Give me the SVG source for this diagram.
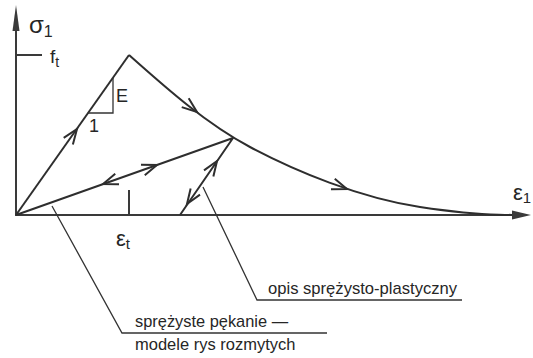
<svg xmlns="http://www.w3.org/2000/svg" width="533" height="358" viewBox="0 0 533 358">
<style>
.ax{stroke:#3a3a3a;stroke-width:2;fill:none}
.ln{stroke:#2e2e2e;stroke-width:2;fill:none;stroke-linejoin:round}
.ld{stroke:#333;stroke-width:1.3;fill:none}
.ar{stroke:none;fill:none}
.t{font-family:"Liberation Sans",Arial,sans-serif;fill:#262626}
</style>
<defs>
<marker id="chev" markerUnits="userSpaceOnUse" markerWidth="20" markerHeight="20" refX="0" refY="0" viewBox="-14 -8 16 16" orient="auto">
<path d="M-12,-4.5 L0,0 L-12,4.5" fill="none" stroke="#2e2e2e" stroke-width="1.6"/>
</marker>
</defs>
<rect width="533" height="358" fill="#fff"/>
<g id="axes">
<line class="ax" x1="16" y1="216" x2="16" y2="26"/>
<polygon points="16,5 12.5,31 19.5,31" fill="#3a3a3a"/>
<line class="ax" x1="16" y1="215" x2="515" y2="215"/>
<polygon points="531,215 512,210.5 512,219.5" fill="#3a3a3a"/>
<line class="ax" x1="16" y1="55" x2="42" y2="55" stroke-width="1.5"/>
<line class="ax" x1="129" y1="190" x2="129" y2="215" stroke-width="1.8"/>
</g>
<g id="labels">
<text class="t" x="29" y="33" font-size="24">σ<tspan font-size="16" dy="4">1</tspan></text>
<text class="t" x="50" y="63" font-size="19">f<tspan font-size="14" dy="4">t</tspan></text>
<text class="t" x="513" y="200" font-size="22">ε<tspan font-size="15" dy="3">1</tspan></text>
<text class="t" x="116" y="246" font-size="22">ε<tspan font-size="15" dy="3">t</tspan></text>
<text class="t" x="116" y="102" font-size="18">E</text>
<text class="t" x="89" y="132" font-size="18">1</text>
</g>
<g id="curves">
<polyline class="ln" points="16,215 129,55"/>
<path class="ln" d="M129,55 C165,87 205,123 250,147 S360,198 420,207 S490,214 512,215"/>
<polyline class="ln" points="16,215 233,138 180,215"/>
<polyline class="ld" points="88,113 113,113 113,78"/>
</g>
<g id="arrows">
<path class="ar" d="M72,136 L77,129" marker-end="url(#chev)"/>
<path class="ar" d="M190,106.5 L197,112" marker-end="url(#chev)"/>
<path class="ar" d="M340,186.5 L347,189" marker-end="url(#chev)"/>
<path class="ar" d="M150,167.5 L157,165" marker-end="url(#chev)"/>
<path class="ar" d="M110,181.5 L103,184" marker-end="url(#chev)"/>
<path class="ar" d="M213,167 L217,161" marker-end="url(#chev)"/>
<path class="ar" d="M191,198 L187,204" marker-end="url(#chev)"/>
</g>
<g id="connectors">
<polyline class="ld" points="52,206 122,333 327,333"/>
<polyline class="ld" points="203,187 257,300 462,300"/>
</g>
<g id="notes">
<text class="t" x="268" y="294" font-size="16.6">opis sprężysto-plastyczny</text>
<text class="t" x="135" y="327" font-size="16.4">sprężyste pękanie —</text>
<text class="t" x="135" y="350" font-size="16.5">modele rys rozmytych</text>
</g>
</svg>
